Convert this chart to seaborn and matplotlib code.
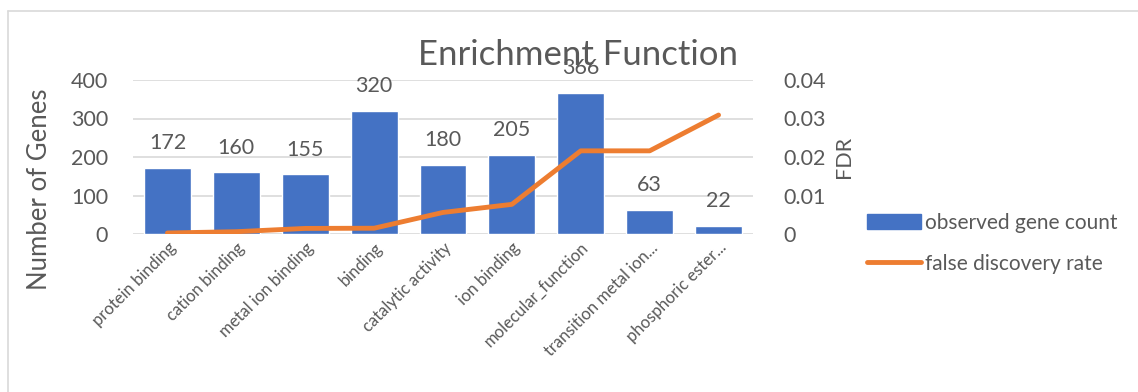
import pandas as pd
import seaborn as sns
import matplotlib.pyplot as plt
from matplotlib.lines import Line2D
from matplotlib.patches import Patch

categories = ['protein binding', 'cation binding', 'metal ion binding', 'binding',
              'catalytic activity', 'ion binding', 'molecular_function',
              'transition metal ion...', 'phosphoric ester...']
gene_count = [172, 160, 155, 320, 180, 205, 366, 63, 22]
fdr = [0.00026, 0.0006, 0.00145, 0.0015, 0.0056, 0.0077, 0.0216, 0.0216, 0.0309]

data = pd.DataFrame({'term': categories, 'count': gene_count, 'fdr': fdr})

sns.set_style('white')
plt.rcParams['font.family'] = ['Lato', 'DejaVu Sans']
grey = '#595959'
blue = '#4472C4'
orange = '#ED7D31'

fig = plt.figure(figsize=(11.38, 3.92), dpi=100)
ax = fig.add_axes([133 / 1138, 1 - 234 / 392, 620 / 1138, 154 / 392])

sns.barplot(x='term', y='count', data=data, color=blue, width=0.68, ax=ax,
            saturation=1)
ax.set_ylim(0, 400)
ax.set_xlim(-0.5, 8.5)
ax.set_yticks([0, 100, 200, 300, 400])
ax.yaxis.grid(True, color='#D9D9D9', linewidth=1.2)
ax.set_axisbelow(True)
for s in ['top', 'right', 'left', 'bottom']:
    ax.spines[s].set_visible(False)
ax.tick_params(axis='y', labelsize=15.5, colors=grey, length=0, pad=18)
ax.tick_params(axis='x', length=0, pad=4)
ax.set_xticks(range(len(categories)))
ax.set_xticklabels(categories, rotation=45, ha='right', rotation_mode='anchor',
                   fontsize=12, color=grey)
ax.set_xlabel('')
ax.set_ylabel('Number of Genes', fontsize=18.5, color=grey)
ax.yaxis.set_label_coords(-0.13, 0.29)

for i, v in enumerate(gene_count):
    ax.text(i, v + 38, str(v), ha='center', va='bottom', fontsize=15.5, color=grey)

ax2 = ax.twinx()
sns.lineplot(x=range(len(fdr)), y=fdr, ax=ax2, color=orange, linewidth=3.5,
             solid_capstyle='round')
ax2.set_ylim(0, 0.04)
ax2.set_yticks([0, 0.01, 0.02, 0.03, 0.04])
ax2.set_yticklabels(['0', '0.01', '0.02', '0.03', '0.04'])
for s in ['top', 'right', 'left', 'bottom']:
    ax2.spines[s].set_visible(False)
ax2.tick_params(axis='y', labelsize=15.5, colors=grey, length=0, pad=22)
ax2.set_ylabel('FDR', fontsize=15.5, color=grey, labelpad=6)

fig.text(578 / 1138, 1 - 55 / 392, 'Enrichment Function', ha='center', va='center',
         fontsize=25, color=grey)

handles = [Patch(color=blue), Line2D([0], [0], color=orange, linewidth=3.5)]
fig.legend(handles, ['observed gene count', 'false discovery rate'],
           loc='upper left', bbox_to_anchor=(848 / 1138, 1 - 194 / 392),
           frameon=False, fontsize=15, labelcolor=grey, handlelength=2.6,
           handletextpad=0.2, labelspacing=1.0)

fig.add_artist(Line2D([8 / 1138, 8 / 1138], [0, 1 - 11 / 392], color='#D9D9D9',
                      linewidth=1.2, transform=fig.transFigure))
fig.add_artist(Line2D([8 / 1138, 1], [1 - 11 / 392, 1 - 11 / 392], color='#D9D9D9',
                      linewidth=1.2, transform=fig.transFigure))

fig.savefig('out.png', dpi=100)
